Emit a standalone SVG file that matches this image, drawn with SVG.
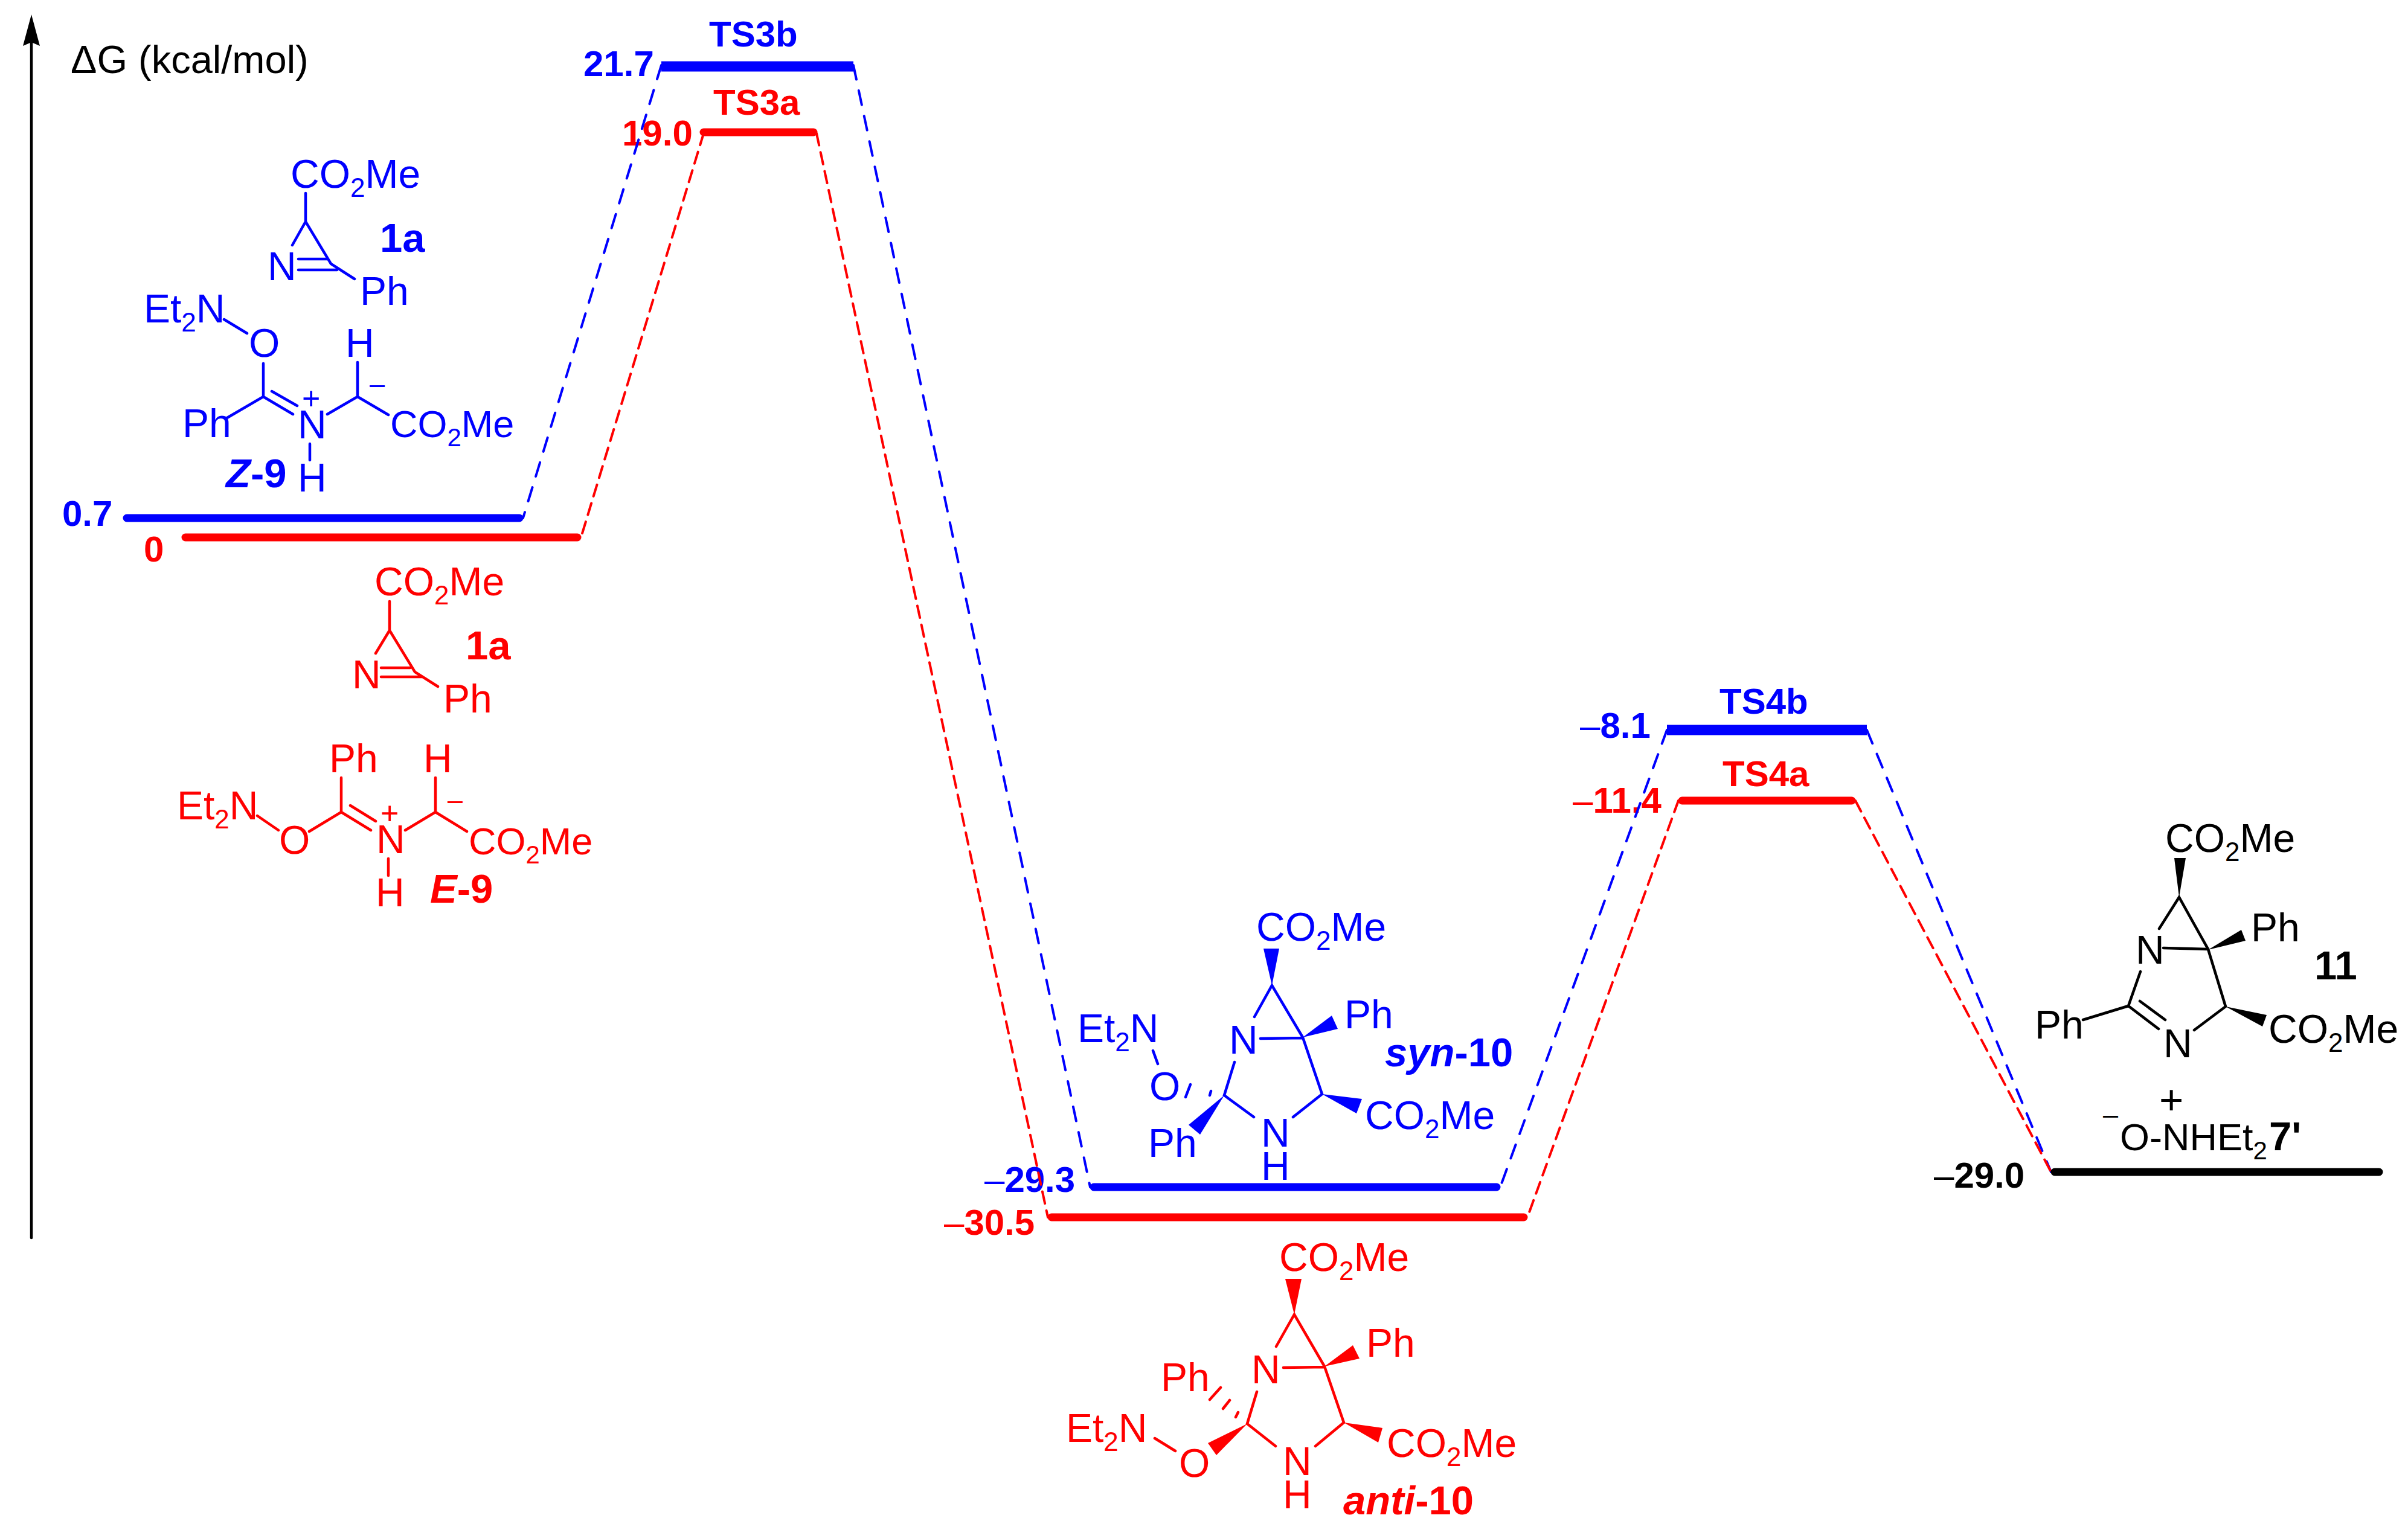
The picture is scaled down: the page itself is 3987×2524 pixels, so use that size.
<svg xmlns="http://www.w3.org/2000/svg" width="3987" height="2524" viewBox="0 0 3987 2524">
<style>
text{font-family:"Liberation Sans",Arial,sans-serif;font-size:66px}
.blue text,.blue polygon{fill:#00f}
.red text,.red polygon{fill:#f00}
.black text,.black polygon{fill:#000}
.blue path{stroke:#00f}
.red path{stroke:#f00}
.black path{stroke:#000}
path{fill:none;stroke-width:4.5;stroke-linecap:round}
.s{font-size:44px}
.l{font-size:60px;font-weight:bold}
.c{font-size:67px;font-weight:bold}
.d{font-weight:normal}
.p{font-size:52px}
.m{font-size:45px}
.i{font-style:italic}
.n{font-size:63px}
.n .s{font-size:42px}
path.level{stroke-width:13}
path.lt{stroke-width:17;stroke-linecap:butt}
#connectors path{stroke-width:4;stroke-linecap:round}
#connectors .blue path{stroke-dasharray:24 19}
#connectors .red path{stroke-dasharray:20 12}
</style>
<g id="axis" class="black">
<path d="M52 2050V60"/>
<polygon points="52,24 38,76 52,70 66,76"/>
<text x="117" y="121" style="font-size:65px">ΔG (kcal/mol)</text>
</g>

<g id="node-z9" class="blue">
<path d="M506 320V367L484 406M506 367L548 437L587 462M494 429H542M494 447H558M371 529L409 552M436 602V657L376 692M436 657L485 686M450 648L492 672M513 735V762M542 686L592 657V600M592 657L643 687"/>
<text x="481" y="311">CO<tspan class="s" dy="15">2</tspan><tspan dy="-15">Me</tspan></text>
<text x="443" y="464">N</text>
<text x="596" y="505">Ph</text>
<text x="629" y="417" class="c">1a</text>
<text x="238" y="534">Et<tspan class="s" dy="15">2</tspan><tspan dy="-15">N</tspan></text>
<text x="412" y="591">O</text>
<text x="302" y="724">Ph</text>
<text x="500" y="678" class="p">+</text>
<text x="493" y="726">N</text>
<text x="493" y="814">H</text>
<text x="572" y="591">H</text>
<text x="612" y="651" class="m">–</text>
<text x="646" y="724" class="n">CO<tspan class="s" dy="15">2</tspan><tspan dy="-15">Me</tspan></text>
<text x="374" y="807" class="c"><tspan class="i">Z</tspan>-9</text>
</g>

<g id="node-e9" class="red">
<path d="M645 996V1044L622 1082M645 1044L687 1113L725 1137M631 1106H679M631 1121H699M565 1288V1345L512 1377M426 1351L461 1375M565 1345L614 1375M580 1334L622 1360M643 1422V1450M671 1375L721 1345V1288M721 1345L773 1377"/>
<text x="620" y="986">CO<tspan class="s" dy="15">2</tspan><tspan dy="-15">Me</tspan></text>
<text x="583" y="1140">N</text>
<text x="734" y="1180">Ph</text>
<text x="771" y="1092" class="c">1a</text>
<text x="545" y="1279">Ph</text>
<text x="701" y="1279">H</text>
<text x="462" y="1414">O</text>
<text x="293" y="1357">Et<tspan class="s" dy="15">2</tspan><tspan dy="-15">N</tspan></text>
<text x="630" y="1365" class="p">+</text>
<text x="623" y="1413">N</text>
<text x="622" y="1501">H</text>
<text x="741" y="1340" class="m">–</text>
<text x="776" y="1415" class="n">CO<tspan class="s" dy="15">2</tspan><tspan dy="-15">Me</tspan></text>
<text x="712" y="1495" class="c"><tspan class="i">E</tspan>-9</text>
</g>

<g id="node-syn10" class="blue">
<path d="M2077 1684L2106 1632L2157 1718L2189 1812L2141 1850M2087 1720L2157 1719M2076 1850L2027 1814L2044 1759M1909 1740L1917 1762M2005 1807L2003 1814M1971 1796L1963 1817"/>
<polygon points="2092,1571 2118,1571 2106,1632"/>
<polygon points="2157,1718 2205,1682 2215,1704"/>
<polygon points="2189,1812 2255,1820 2246,1844"/>
<polygon points="2027,1814 1968,1863 1987,1879"/>
<text x="2080" y="1558">CO<tspan class="s" dy="15">2</tspan><tspan dy="-15">Me</tspan></text>
<text x="2035" y="1745">N</text>
<text x="2226" y="1703">Ph</text>
<text x="2293" y="1766" class="c"><tspan class="i">syn</tspan>-10</text>
<text x="2260" y="1870">CO<tspan class="s" dy="15">2</tspan><tspan dy="-15">Me</tspan></text>
<text x="2088" y="1899">N</text>
<text x="2088" y="1954">H</text>
<text x="1901" y="1916">Ph</text>
<text x="1903" y="1822">O</text>
<text x="1784" y="1726">Et<tspan class="s" dy="15">2</tspan><tspan dy="-15">N</tspan></text>
</g>

<g id="node-anti10" class="red">
<path d="M2113 2230L2143 2177L2193 2263L2225 2356L2178 2395M2125 2265L2193 2264M2112 2395L2065 2358L2081 2305M1912 2382L1946 2403M2050 2339L2046 2347M2036 2319L2025 2333M2021 2298L2003 2318"/>
<polygon points="2128,2118 2155,2118 2143,2177"/>
<polygon points="2193,2263 2240,2228 2251,2250"/>
<polygon points="2225,2356 2289,2365 2282,2389"/>
<polygon points="2065,2358 2000,2390 2014,2410"/>
<text x="2118" y="2105">CO<tspan class="s" dy="15">2</tspan><tspan dy="-15">Me</tspan></text>
<text x="2072" y="2291">N</text>
<text x="2262" y="2247">Ph</text>
<text x="2296" y="2413">CO<tspan class="s" dy="15">2</tspan><tspan dy="-15">Me</tspan></text>
<text x="2124" y="2443">N</text>
<text x="2124" y="2498">H</text>
<text x="1952" y="2446">O</text>
<text x="1765" y="2388">Et<tspan class="s" dy="15">2</tspan><tspan dy="-15">N</tspan></text>
<text x="1922" y="2304">Ph</text>
<text x="2224" y="2508" class="c"><tspan class="i">anti</tspan>-10</text>
</g>

<g id="node-11" class="black">
<path d="M3575 1538L3608 1486L3656 1572L3685 1667L3633 1706M3582 1570L3656 1572M3544 1609L3524 1666L3574 1704M3543 1658L3585 1689M3524 1666L3449 1689"/>
<polygon points="3600,1421 3619,1421 3608,1486"/>
<polygon points="3656,1573 3711,1540 3718,1558"/>
<polygon points="3685,1667 3753,1681 3746,1700"/>
<text x="3585" y="1411">CO<tspan class="s" dy="15">2</tspan><tspan dy="-15">Me</tspan></text>
<text x="3536" y="1596">N</text>
<text x="3727" y="1559">Ph</text>
<text x="3832" y="1622" class="c">11</text>
<text x="3756" y="1727">CO<tspan class="s" dy="15">2</tspan><tspan dy="-15">Me</tspan></text>
<text x="3582" y="1751">N</text>
<text x="3369" y="1720">Ph</text>
<text x="3575" y="1845" style="font-size:69px">+</text>
<text x="3482" y="1861" class="m">–</text>
<text x="3510" y="1905" class="n">O-NHEt<tspan class="s" dy="15">2</tspan></text>
<text x="3757" y="1905" class="c">7'</text>
</g>

<g id="labels-energy">
<g class="blue"><text x="103" y="871" class="l">0.7</text>
<text x="966" y="126" class="l">21.7</text>
<text x="1174" y="77" class="l">TS3b</text>
<text x="1630" y="1974" class="l"><tspan class="d">–</tspan>29.3</text>
<text x="2616" y="1222" class="l"><tspan class="d">–</tspan>8.1</text>
<text x="2847" y="1182" class="l">TS4b</text></g>
<g class="red"><text x="238" y="930" class="l">0</text>
<text x="1030" y="241" class="l">19.0</text>
<text x="1181" y="190" class="l">TS3a</text>
<text x="1563" y="2045" class="l"><tspan class="d">–</tspan>30.5</text>
<text x="2604" y="1346" class="l"><tspan class="d">–</tspan>11.4</text>
<text x="2852" y="1302" class="l">TS4a</text></g>
<g class="black"><text x="3202" y="1967" class="l"><tspan class="d">–</tspan>29.0</text></g>
</g>

<g id="connectors">
<g class="blue">
<path d="M1095 108L866 858"/>
<path d="M1413 108L1805 1966"/>
<path d="M2760 1209L2484 1966"/>
<path d="M3091 1209L3396 1941"/>
</g>
<g class="red">
<path d="M1165 221L962 890"/>
<path d="M1352 221L1735 2016"/>
<path d="M2779 1326L2529 2016"/>
<path d="M3072 1326L3396 1941"/>
</g>
</g>

<g id="levels">
<g class="blue">
<path class="level" d="M210 858H860"/>
<path class="lt" d="M1095 110H1413"/>
<path class="level" d="M1811 1966H2478"/>
<path class="lt" d="M2760 1209H3091"/>
</g>
<g class="red">
<path class="level" d="M307 890H956"/>
<path class="level" d="M1165 219H1347"/>
<path class="level" d="M1741 2016H2523"/>
<path class="level" d="M2785 1326H3066"/>
</g>
<g class="black"><path class="level" d="M3402 1941H3939"/></g>
</g>
</svg>
